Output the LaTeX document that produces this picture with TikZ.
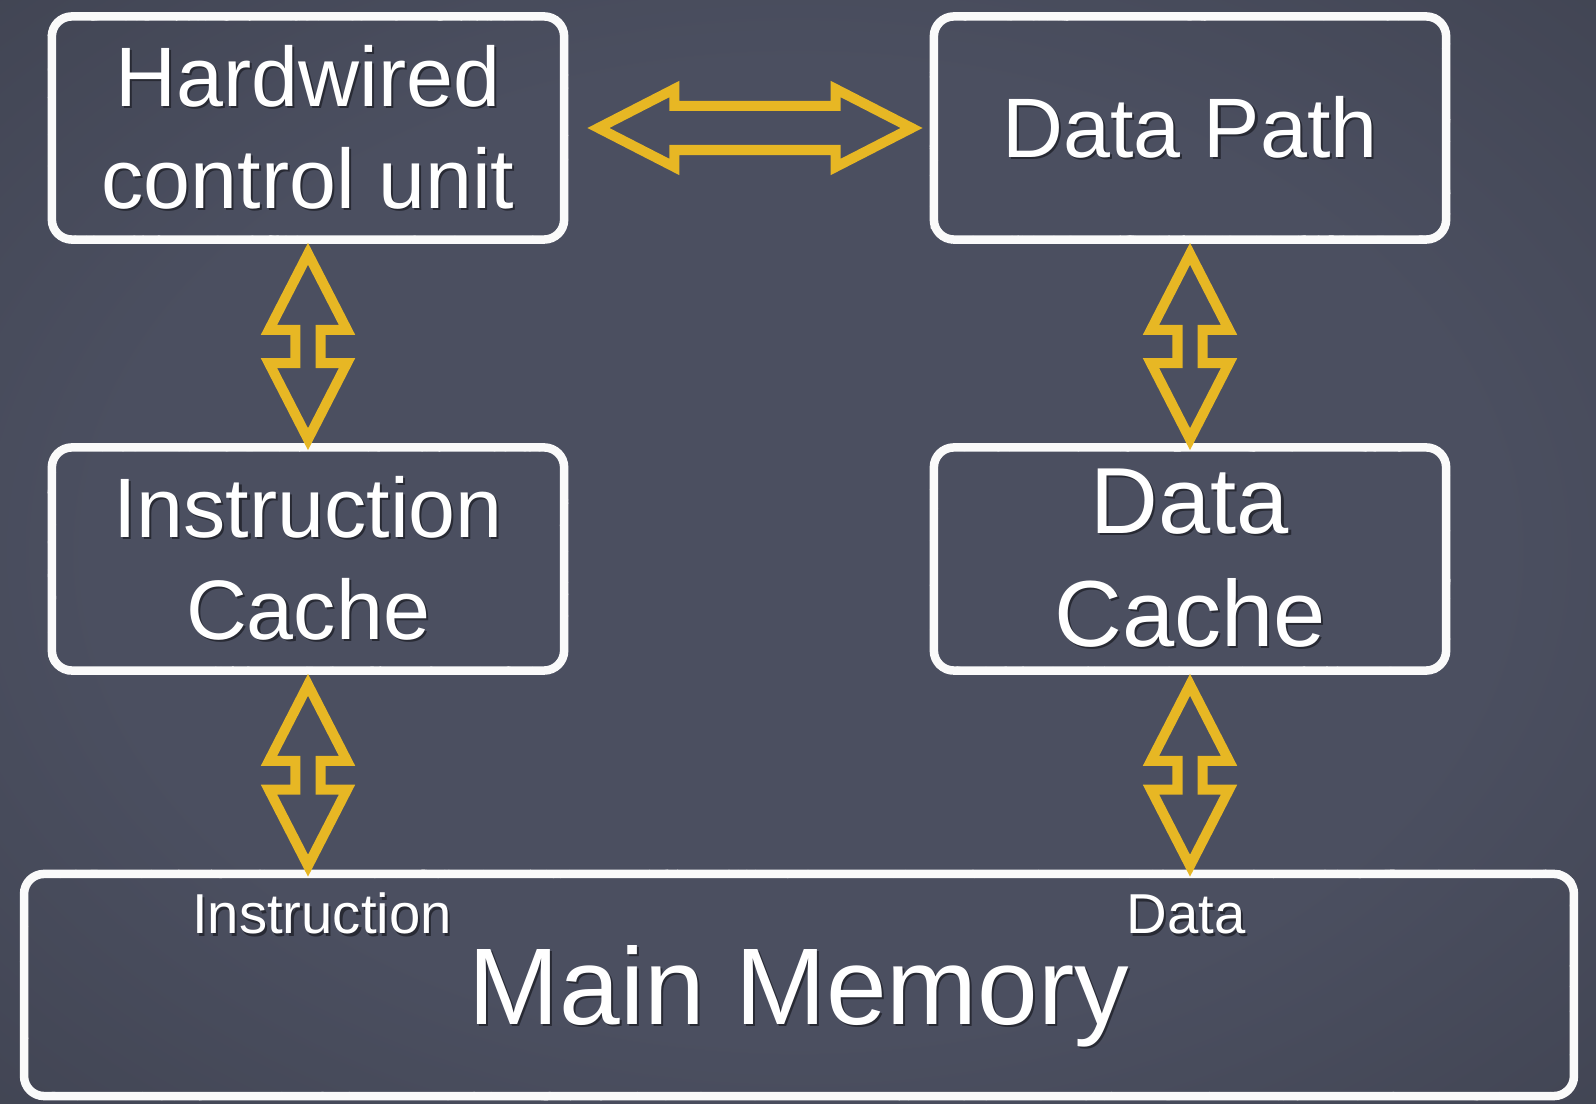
\documentclass[tikz,border=0pt]{standalone}
\usepackage{fontspec}
\setmainfont{Liberation Sans}
\usetikzlibrary{calc,decorations.pathmorphing}
\definecolor{pizarra}{RGB}{75,79,96}
\definecolor{pizarraosc}{RGB}{56,59,71}
\definecolor{tiza}{RGB}{250,250,250}
\definecolor{amarillo}{RGB}{231,183,36}
\definecolor{sombra}{RGB}{40,42,52}
\pgfdeclareradialshading{tablero}{\pgfpoint{0bp}{0bp}}{color(0bp)=(pizarra); color(22bp)=(pizarra); color(50bp)=(pizarraosc)}
\newcommand\sombreado[1]{\makebox[0pt][l]{\kern0.6pt\raisebox{-0.6pt}{\color{sombra}#1}}#1}

\begin{document}
\begin{tikzpicture}[x=0.01cm,y=-0.01cm,
  caja/.style={draw=tiza,line width=0.85mm,rounded corners=2mm,minimum width=5.12cm,minimum height=2.23cm,
    inner sep=0pt,align=center,text=white,font=\fontsize{24}{29}\selectfont,
    postaction={draw=tiza,line width=0.3mm,line join=round,line cap=round,sharp corners,decorate,
      decoration={random steps,segment length=0.25mm,amplitude=0.28mm}}},
  etiqueta/.style={text=white,anchor=base,font=\fontsize{16}{19}\selectfont},
  bus/.style={draw=amarillo,line width=1mm,line join=miter,
    to path={-- ($(\tikztostart)!7.6mm!(\tikztotarget)!3.9mm!90:(\tikztotarget)$)
      -- ($(\tikztostart)!7.6mm!(\tikztotarget)!#1!90:(\tikztotarget)$)
      -- ($(\tikztotarget)!7.6mm!(\tikztostart)!#1!-90:(\tikztostart)$)
      -- ($(\tikztotarget)!7.6mm!(\tikztostart)!3.9mm!-90:(\tikztostart)$)
      -- (\tikztotarget)
      -- ($(\tikztotarget)!7.6mm!(\tikztostart)!3.9mm!90:(\tikztostart)$)
      -- ($(\tikztotarget)!7.6mm!(\tikztostart)!#1!90:(\tikztostart)$)
      -- ($(\tikztostart)!7.6mm!(\tikztotarget)!#1!-90:(\tikztotarget)$)
      -- ($(\tikztostart)!7.6mm!(\tikztotarget)!3.9mm!-90:(\tikztotarget)$)
      -- cycle}}]
  \pgfmathsetseed{7}
  % fondo de pizarra
  \useasboundingbox (0,0) rectangle (1596,1104);
  \shade[shading=tablero] (0,0) rectangle (1596,1104);
  % unidades
  \node[caja] (ucc) at (308,128) {\sombreado{Hardwired}\\\sombreado{control unit}};
  \node[caja] (ruta) at (1190,128) {\sombreado{Data Path}};
  \node[caja] (cachei) at (308,559) {\sombreado{Instruction}\\\sombreado{Cache}};
  \node[caja,font=\fontsize{26.7}{32}\selectfont] (cached) at (1190,559) {\sombreado{Data}\\\sombreado{Cache}};
  % memoria principal
  \node[caja,minimum width=15.49cm,minimum height=2.22cm,text depth=0pt,font=\fontsize{31}{37}\selectfont] (mem) at (799,985) {\sombreado{Main Memory}};
  \node[etiqueta] (etqi) at (322,934) {\sombreado{Instruction}};
  \node[etiqueta] (etqd) at (1186,934) {\sombreado{Data}};
  % buses
  \draw[bus=2.2mm] ([xshift=3mm]ucc.east) to ([xshift=-1.8mm]ruta.west);
  \draw[bus=1.25mm] ([yshift=-1mm]ucc.south) to ([yshift=0.4mm]cachei.north);
  \draw[bus=1.25mm] ([yshift=-1mm]ruta.south) to ([yshift=0.4mm]cached.north);
  \draw[bus=1.25mm] ([yshift=-1mm]cachei.south) to ([yshift=0.4mm]cachei.south |- mem.north);
  \draw[bus=1.25mm] ([yshift=-1mm]cached.south) to ([yshift=0.4mm]cached.south |- mem.north);
\end{tikzpicture}
\end{document}
